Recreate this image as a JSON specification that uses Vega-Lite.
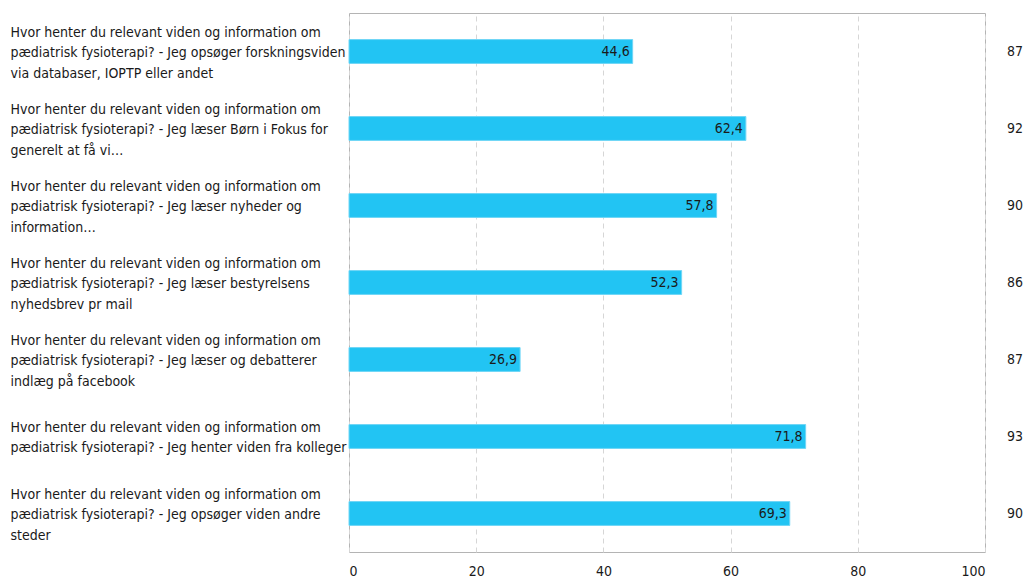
{
  "$schema": "https://vega.github.io/schema/vega-lite/v6.json",
  "width": 636,
  "height": 539,
  "autosize": {"type": "none"},
  "padding": {"left": 349, "top": 13, "right": 38, "bottom": 27},
  "background": "white",
  "config": {
    "font": "DejaVu Sans Condensed",
    "view": {"stroke": "#b4b4b4", "strokeWidth": 1},
    "locale": {"number": {"decimal": ",", "thousands": ".", "grouping": [3], "currency": ["", " kr"]}}
  },
  "data": {
    "values": [
      {"q": "Hvor henter du relevant viden og information om|pædiatrisk fysioterapi? - Jeg opsøger forskningsviden|via databaser, IOPTP eller andet", "pct": 44.6, "n": 87},
      {"q": "Hvor henter du relevant viden og information om|pædiatrisk fysioterapi? - Jeg læser Børn i Fokus for|generelt at få vi…", "pct": 62.4, "n": 92},
      {"q": "Hvor henter du relevant viden og information om|pædiatrisk fysioterapi? - Jeg læser nyheder og|information…", "pct": 57.8, "n": 90},
      {"q": "Hvor henter du relevant viden og information om|pædiatrisk fysioterapi? - Jeg læser bestyrelsens|nyhedsbrev pr mail", "pct": 52.3, "n": 86},
      {"q": "Hvor henter du relevant viden og information om|pædiatrisk fysioterapi? - Jeg læser og debatterer|indlæg på facebook", "pct": 26.9, "n": 87},
      {"q": "Hvor henter du relevant viden og information om|pædiatrisk fysioterapi? - Jeg henter viden fra kolleger", "pct": 71.8, "n": 93},
      {"q": "Hvor henter du relevant viden og information om|pædiatrisk fysioterapi? - Jeg opsøger viden andre|steder", "pct": 69.3, "n": 90}
    ]
  },
  "encoding": {
    "y": {
      "field": "q",
      "type": "nominal",
      "sort": null,
      "scale": {"paddingInner": 0.69, "paddingOuter": 0.345},
      "axis": {
        "title": null,
        "labelExpr": "split(datum.value, '|')",
        "labelAlign": "left",
        "labelBaseline": "middle",
        "labelPadding": 339,
        "labelOffset": {"condition": {"test": "length(split(datum.value, '|')) == 2", "value": -9}, "value": -19},
        "labelLimit": 400,
        "labelFontSize": 14,
        "labelLineHeight": 20.5,
        "labelColor": "#1a1a1a",
        "ticks": false,
        "domain": false,
        "grid": false
      }
    }
  },
  "layer": [
    {
      "mark": {"type": "bar", "color": "#22c4f3", "stroke": "#6fd6f6", "strokeWidth": 1},
      "encoding": {
        "x": {
          "field": "pct",
          "type": "quantitative",
          "scale": {"domain": [0, 100], "nice": false},
          "axis": {
            "title": null,
            "values": [0, 20, 40, 60, 80, 100],
            "labelFlush": true,
            "labelFontSize": 14,
            "labelColor": "#1a1a1a",
            "labelPadding": 12,
            "ticks": false,
            "domain": false,
            "grid": true,
            "gridColor": "#d6d6d6",
            "gridDash": [5, 4],
            "gridWidth": 1
          }
        }
      }
    },
    {
      "mark": {"type": "text", "align": "right", "baseline": "middle", "dx": -3, "fontSize": 14, "color": "#1a1a1a"},
      "encoding": {
        "x": {"field": "pct", "type": "quantitative"},
        "text": {"field": "pct", "type": "quantitative", "format": ".1f"}
      }
    },
    {
      "mark": {"type": "text", "align": "left", "baseline": "middle", "dx": 22, "fontSize": 14, "color": "#1a1a1a"},
      "encoding": {
        "x": {"datum": 100},
        "text": {"field": "n", "type": "quantitative"}
      }
    }
  ]
}
